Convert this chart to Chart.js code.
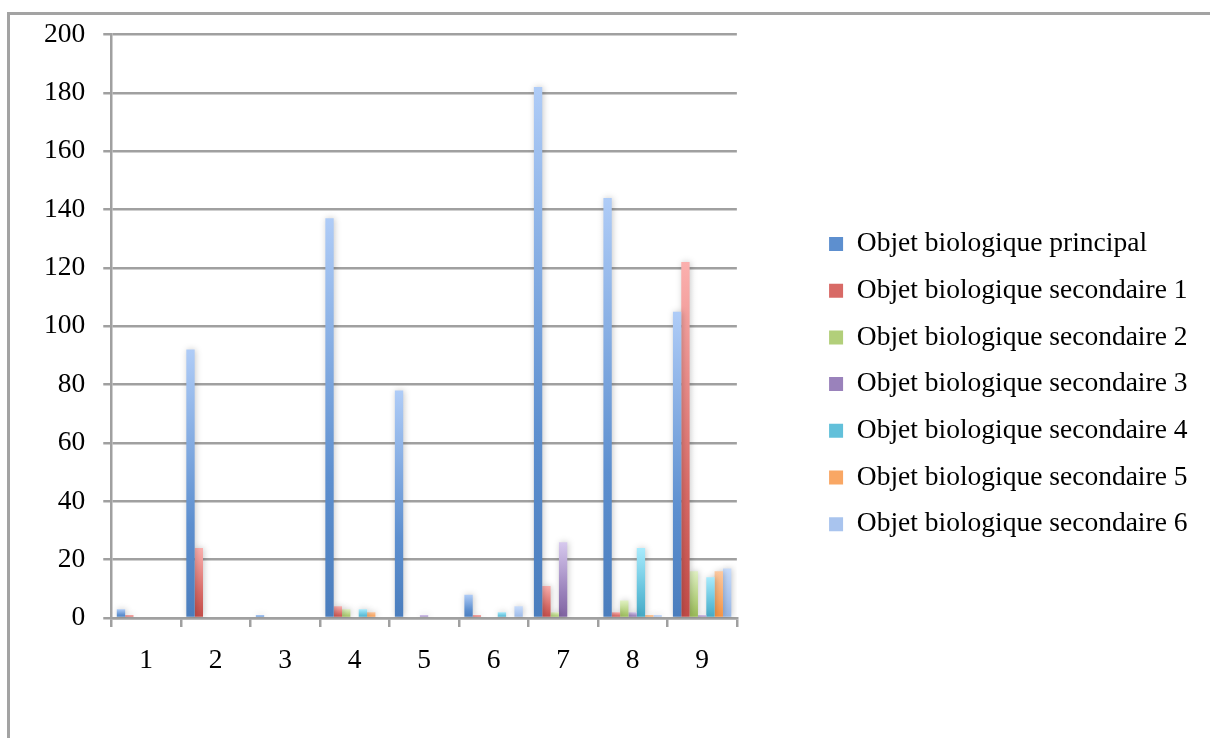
<!DOCTYPE html>
<html>
<head>
<meta charset="utf-8">
<script src="https://cdn.jsdelivr.net/npm/chart.js@4.4.1/dist/chart.umd.min.js"></script>
<style>
  html, body { margin: 0; padding: 0; background: #ffffff; }
  #wrap { position: relative; width: 1210px; height: 738px; }
  canvas { display: block; }
</style>
</head>
<body>
<div id="wrap"><canvas id="c" width="1210" height="738"></canvas></div>
<script>
// ---- data ----
const categories = ['1', '2', '3', '4', '5', '6', '7', '8', '9'];
const seriesNames = [
  'Objet biologique principal',
  'Objet biologique secondaire 1',
  'Objet biologique secondaire 2',
  'Objet biologique secondaire 3',
  'Objet biologique secondaire 4',
  'Objet biologique secondaire 5',
  'Objet biologique secondaire 6'
];
const principal   = [3, 92, 1, 137, 78, 8, 182, 144, 105];
const secondaire1 = [1, 24, 0, 4, 0, 1, 11, 2, 122];
const secondaire2 = [0, 0, 0, 3, 0, 0, 2, 6, 16];
const secondaire3 = [0, 0, 0, 0, 1, 0, 26, 2, 1];
const secondaire4 = [0, 0, 0, 3, 0, 2, 0, 24, 14];
const secondaire5 = [0, 0, 0, 2, 0, 0, 0, 1, 16];
const secondaire6 = [0, 0, 0, 0, 0, 4, 0, 1, 17];
const yTicks = [0, 20, 40, 60, 80, 100, 120, 140, 160, 180, 200];

// ---- styles ----
const palette = [
  ['#4a7dbd', '#afccf7', '#5d8fcf'],
  ['#c24b47', '#fbb0ae', '#d86a66'],
  ['#98b954', '#e0f1c2', '#b2cf7a'],
  ['#7f62a1', '#d7c9ee', '#9a82bb'],
  ['#44a8c4', '#a8ebfd', '#62c0da'],
  ['#f7923f', '#fdc9a0', '#f9a764'],
  ['#98b6e3', '#c8dcfb', '#a9c4ee']
];
const allSeries = [principal, secondaire1, secondaire2, secondaire3, secondaire4, secondaire5, secondaire6];
const FONT = { family: "'Liberation Serif', 'Times New Roman', serif", size: 27.5 };
const GRID = '#a0a0a0';

function grad(dark, light, mid) {
  return (ctx) => {
    const chart = ctx.chart;
    if (ctx.type !== 'data' || !chart.chartArea || !chart.scales.y) return mid;
    const y = chart.scales.y;
    const top = y.getPixelForValue(ctx.raw);
    const base = y.getPixelForValue(0);
    if (!isFinite(top) || !isFinite(base) || Math.abs(base - top) < 0.5) return light;
    const g = chart.ctx.createLinearGradient(0, base, 0, top);
    g.addColorStop(0, dark);
    g.addColorStop(0.35, mid);
    g.addColorStop(1, light);
    return g;
  };
}

const datasets = allSeries.map((arr, i) => ({
  label: seriesNames[i],
  data: arr,
  backgroundColor: grad(palette[i][0], palette[i][1], palette[i][2]),
  borderWidth: 0,
  categoryPercentage: 0.84,
  barPercentage: 1.0
}));

const frame = {
  id: 'frame',
  beforeDraw(chart) {
    const c = chart.ctx;
    c.save();
    c.fillStyle = '#ffffff';
    c.fillRect(0, 0, chart.width, chart.height);
    c.strokeStyle = '#a3a3a3';
    c.lineWidth = 3;
    c.beginPath();
    c.moveTo(8.5, chart.height);
    c.lineTo(8.5, 13.5);
    c.lineTo(chart.width, 13.5);
    c.stroke();
    c.restore();
  }
};

const shadow = {
  id: 'shadow',
  beforeDatasetsDraw(chart) {
    const c = chart.ctx;
    c.save();
    c.shadowColor = 'rgba(0,0,0,0.22)';
    c.shadowBlur = 6;
    c.shadowOffsetX = 1;
    c.shadowOffsetY = 0;
  },
  afterDatasetsDraw(chart) {
    chart.ctx.restore();
  }
};

new Chart(document.getElementById('c'), {
  type: 'bar',
  data: { labels: categories, datasets },
  plugins: [frame, shadow],
  options: {
    responsive: false,
    animation: false,
    events: [],
    layout: { padding: { left: 26, top: 34, right: 12.5, bottom: 44 } },
    plugins: {
      tooltip: { enabled: false },
      legend: {
        position: 'right',
        align: 'center',
        maxWidth: 420,
        title: { display: true, text: '', font: { size: 1 }, padding: { top: 39, bottom: 0 } },
        labels: {
          boxWidth: 14,
          boxHeight: 14,
          padding: 19.2,
          color: '#000000',
          font: FONT,
          generateLabels(chart) {
            const items = Chart.defaults.plugins.legend.labels.generateLabels(chart);
            items.forEach((it, i) => {
              it.fillStyle = palette[i][2];
              it.strokeStyle = palette[i][2];
              it.lineWidth = 0;
            });
            return items;
          }
        }
      }
    },
    scales: {
      x: {
        type: 'category',
        grid: {
          display: true,
          offset: true,
          drawOnChartArea: false,
          drawTicks: true,
          tickLength: 9,
          color: GRID,
          lineWidth: 2.5
        },
        border: { display: true, color: GRID, width: 2.5 },
        ticks: { color: '#000000', font: FONT, padding: 17, maxRotation: 0 }
      },
      y: {
        min: 0,
        max: 200,
        afterBuildTicks(scale) { scale.ticks = yTicks.map(v => ({ value: v })); },
        grid: {
          color: GRID,
          lineWidth: 2.5,
          drawTicks: true,
          tickLength: 8
        },
        border: { display: true, color: GRID, width: 2.5 },
        ticks: { color: '#000000', font: FONT, padding: 18 }
      },
      gap: {
        type: 'linear',
        position: 'right',
        display: true,
        grid: { display: false, drawTicks: false },
        border: { display: false },
        ticks: { display: false },
        afterFit(scale) { scale.width = 73; }
      }
    }
  }
});
</script>
</body>
</html>
